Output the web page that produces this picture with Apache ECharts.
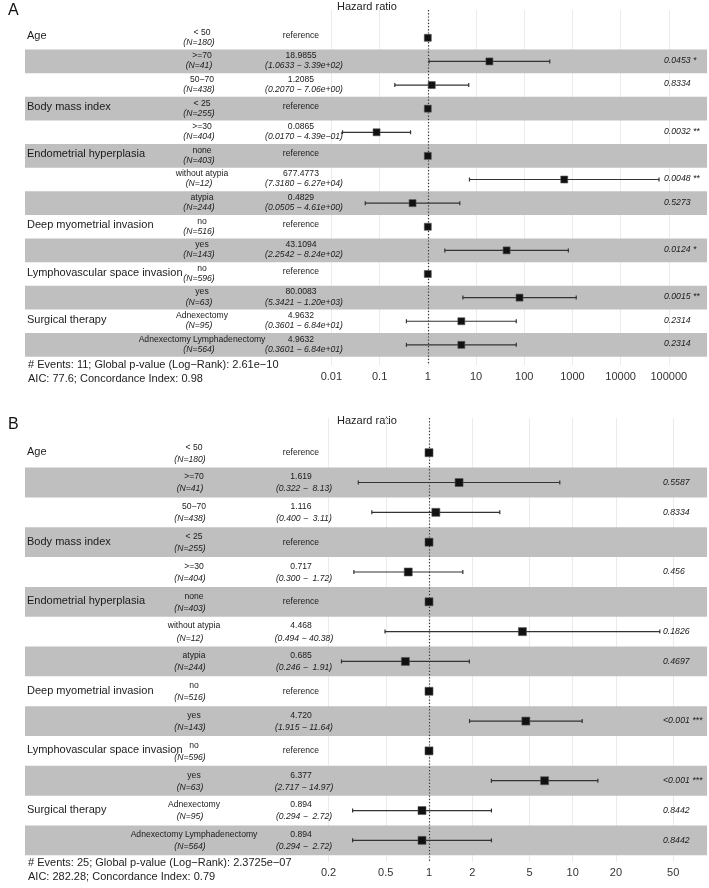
<!DOCTYPE html>
<html>
<head>
<meta charset="utf-8">
<script src="https://cdn.jsdelivr.net/npm/echarts@6/dist/echarts.min.js"></script>
<style>
    html, body { margin: 0; padding: 0; background: #fff; }
    #chart { width: 709px; height: 888px; }
</style>
</head>
<body>
<div id="chart"></div>
<script>
// rows, same for both models
var variables = ['Age', '', '', 'Body mass index', '', 'Endometrial hyperplasia', '', '', 'Deep myometrial invasion', '', 'Lymphovascular space invasion', '', 'Surgical therapy', ''];
var levels = ['< 50', '>=70', '50\u221270', '< 25', '>=30', 'none', 'without atypia', 'atypia', 'no', 'yes', 'no', 'yes', 'Adnexectomy', 'Adnexectomy Lymphadenectomy'];
var counts = [180, 41, 438, 255, 404, 403, 12, 244, 516, 143, 596, 63, 95, 564];

// model A
var hrA = [1, 18.9855, 1.2085, 1, 0.0865, 1, 677.4773, 0.4829, 1, 43.1094, 1, 80.0083, 4.9632, 4.9632];
var lowerA = [null, 1.0633, 0.2070, null, 0.0170, null, 7.3180, 0.0505, null, 2.2542, null, 5.3421, 0.3601, 0.3601];
var upperA = [null, 339, 7.06, null, 0.439, null, 62700, 4.61, null, 824, null, 1200, 68.4, 68.4];
var pA = ['', '0.0453 *', '0.8334', '', '0.0032 **', '', '0.0048 **', '0.5273', '', '0.0124 *', '', '0.0015 **', '0.2314', '0.2314'];
var ticksA = [0.01, 0.1, 1, 10, 100, 1000, 10000, 100000];
var notesA = ['# Events: 11; Global p-value (Log\u2212Rank): 2.61e\u221210', 'AIC: 77.6; Concordance Index: 0.98'];

// model B
var hrB = [1, 1.619, 1.116, 1, 0.717, 1, 4.468, 0.685, 1, 4.720, 1, 6.377, 0.894, 0.894];
var lowerB = [null, 0.322, 0.400, null, 0.300, null, 0.494, 0.246, null, 1.915, null, 2.717, 0.294, 0.294];
var upperB = [null, 8.13, 3.11, null, 1.72, null, 40.38, 1.91, null, 11.64, null, 14.97, 2.72, 2.72];
var pB = ['', '0.5587', '0.8334', '', '0.456', '', '0.1826', '0.4697', '', '<0.001 ***', '', '<0.001 ***', '0.8442', '0.8442'];
var ticksB = [0.2, 0.5, 1, 2, 5, 10, 20, 50];
var notesB = ['# Events: 25; Global p-value (Log\u2212Rank): 2.3725e\u221207', 'AIC: 282.28; Concordance Index: 0.79'];

var FONT = '"Liberation Sans", Arial, Helvetica, sans-serif';
var LEFT = 25, RIGHT = 707;

function expText(v) {
    return v.toExponential(2).replace(/e([+-])(\d)$/, 'e$10$2').replace('-', '\u2212');
}

function pad(s, n) {
    while (s.length < n) s = ' ' + s;
    return s;
}

var panels = [
    {
        name: 'A', hr: hrA, lo: lowerA, hi: upperA, p: pA, ticks: ticksA, notes: notesA,
        hrText: function (v) { return v.toFixed(4); },
        ciText: function (lo, hi) { return '(' + lo.toFixed(4) + ' \u2212 ' + expText(hi) + ')'; },
        top: 10, bottom: 365, rowTop: 37.8, rowStep: 23.62, pxOne: 427.8, pxDecade: 48.2,
        sq: 7, up: -5.5, down: 4.5, refDy: -2.5, varDy: -1.5, pDy: -1,
        lvlX: 202, nX: 199, pX: 664, titleTop: 1, noteTop: 359, labelMargin: 6
    },
    {
        name: 'B', hr: hrB, lo: lowerB, hi: upperB, p: pB, ticks: ticksB, notes: notesB,
        hrText: function (v) { return v.toFixed(3); },
        ciText: function (lo, hi) { return '(' + lo.toFixed(3) + ' \u2212 ' + pad(hi.toFixed(2), 5) + ')'; },
        top: 418, bottom: 862, rowTop: 452.7, rowStep: 29.82, pxOne: 429, pxDecade: 143.7,
        sq: 8, up: -5.5, down: 6.5, refDy: 0, varDy: -0.5, pDy: 0,
        lvlX: 194, nX: 190, pX: 663, titleTop: 415, noteTop: 857, labelMargin: 5
    }
];

function textSeries(ax, ay, items, font, align) {
    return {
        type: 'custom',
        xAxisIndex: ax,
        yAxisIndex: ay,
        z: 10,
        silent: true,
        data: items.map(function (d) { return [d.x, d.y]; }),
        renderItem: function (params, api) {
            var pt = api.coord([api.value(0), api.value(1)]);
            return {
                type: 'text',
                x: pt[0],
                y: pt[1],
                style: {
                    text: items[params.dataIndex].text,
                    font: font,
                    fill: '#1a1a1a',
                    align: align,
                    verticalAlign: 'middle'
                }
            };
        }
    };
}

var option = {
    animation: false,
    backgroundColor: '#fff',
    grid: [],
    xAxis: [],
    yAxis: [],
    series: [],
    graphic: []
};

panels.forEach(function (p, k) {
    var xMin = (LEFT - p.pxOne) / p.pxDecade;
    var xMax = (RIGHT - p.pxOne) / p.pxDecade;
    var yMin = (p.top - p.rowTop) / p.rowStep;
    var yMax = (p.bottom - p.rowTop) / p.rowStep;
    var ticks = p.ticks;
    var dy = function (px) { return px / p.rowStep; };

    option.grid.push({ left: LEFT, width: RIGHT - LEFT, top: p.top, height: p.bottom - p.top });
    // log-scale axis (values in log10 units)
    option.xAxis.push({
        type: 'value', gridIndex: k, min: xMin, max: xMax,
        axisLine: { show: false }, axisTick: { show: false }, splitLine: { show: false },
        axisLabel: {
            customValues: ticks.map(Math.log10),
            margin: p.labelMargin,
            color: '#333',
            fontSize: 11,
            fontFamily: FONT,
            formatter: function (v) {
                for (var i = 0; i < ticks.length; i++) {
                    if (Math.abs(Math.log10(ticks[i]) - v) < 1e-6) return String(ticks[i]);
                }
                return '';
            }
        }
    });
    // table axis in pixel columns
    option.xAxis.push({ type: 'value', gridIndex: k, min: LEFT, max: RIGHT, show: false });
    option.yAxis.push({ type: 'value', gridIndex: k, min: yMin, max: yMax, inverse: true, show: false });

    var ax = 2 * k, tx = 2 * k + 1;

    var bands = [];
    for (var i = 1; i < p.hr.length; i += 2) {
        bands.push([{ yAxis: i - 0.5 }, { yAxis: i + 0.5 }]);
    }

    var ciData = [];
    p.hr.forEach(function (h, i) {
        if (p.lo[i] != null) ciData.push([Math.log10(p.lo[i]), Math.log10(p.hi[i]), i]);
    });

    // squares + background bands and gridlines
    option.series.push({
        type: 'scatter',
        xAxisIndex: ax, yAxisIndex: k,
        z: 5,
        silent: true,
        symbol: 'rect',
        symbolSize: p.sq,
        itemStyle: { color: '#111', borderColor: '#555', borderWidth: 0.6, opacity: 1 },
        data: p.hr.map(function (h, i) { return [Math.log10(h), i]; }),
        markArea: {
            silent: true,
            z: 1,
            itemStyle: { color: '#bfbfbf' },
            data: bands
        },
        markLine: {
            silent: true,
            z: 0,
            symbol: ['none', 'none'],
            label: { show: false },
            lineStyle: { color: '#ebebeb', width: 1, type: 'solid' },
            data: ticks.map(function (t) { return { xAxis: Math.log10(t) }; })
        }
    });

    // confidence intervals
    option.series.push({
        type: 'custom',
        xAxisIndex: ax, yAxisIndex: k,
        z: 4,
        silent: true,
        encode: { x: [0, 1], y: 2 },
        data: ciData,
        renderItem: function (params, api) {
            var a = api.coord([api.value(0), api.value(2)]);
            var b = api.coord([api.value(1), api.value(2)]);
            var st = { stroke: '#333', lineWidth: 1.2 };
            return {
                type: 'group',
                children: [
                    { type: 'line', shape: { x1: a[0], y1: a[1], x2: b[0], y2: b[1] }, style: st },
                    { type: 'line', shape: { x1: a[0], y1: a[1] - 2, x2: a[0], y2: a[1] + 2 }, style: st },
                    { type: 'line', shape: { x1: b[0], y1: b[1] - 2, x2: b[0], y2: b[1] + 2 }, style: st }
                ]
            };
        },
        markLine: {
            silent: true,
            z: 3,
            symbol: ['none', 'none'],
            label: { show: false },
            lineStyle: { color: '#333', width: 1.2, type: [1.2, 2] },
            data: [{ xAxis: 0 }]
        }
    });

    // table text
    var varItems = [], lvlItems = [], nItems = [], hrItems = [], ciItems = [], pItems = [];
    p.hr.forEach(function (h, i) {
        if (variables[i]) varItems.push({ x: 27, y: i + dy(p.varDy), text: variables[i] });
        lvlItems.push({ x: p.lvlX, y: i + dy(p.up), text: levels[i] });
        nItems.push({ x: p.nX, y: i + dy(p.down), text: '(N=' + counts[i] + ')' });
        if (p.lo[i] == null) {
            hrItems.push({ x: 301, y: i + dy(p.refDy), text: 'reference' });
        } else {
            hrItems.push({ x: 301, y: i + dy(p.up), text: p.hrText(h) });
            ciItems.push({ x: 304, y: i + dy(p.down), text: p.ciText(p.lo[i], p.hi[i]) });
        }
        if (p.p[i]) pItems.push({ x: p.pX, y: i + dy(p.pDy), text: p.p[i] });
    });
    option.series.push(textSeries(tx, k, varItems, '11px ' + FONT, 'left'));
    option.series.push(textSeries(tx, k, lvlItems, '8.6px ' + FONT, 'center'));
    option.series.push(textSeries(tx, k, nItems, 'italic 8.6px ' + FONT, 'center'));
    option.series.push(textSeries(tx, k, hrItems, '8.6px ' + FONT, 'center'));
    option.series.push(textSeries(tx, k, ciItems, 'italic 8.6px ' + FONT, 'center'));
    option.series.push(textSeries(tx, k, pItems, 'italic 8.7px ' + FONT, 'left'));

    option.graphic.push(
        { type: 'text', left: 8, top: p.titleTop + 2, style: { text: p.name, font: '16px ' + FONT, fill: '#111' } },
        { type: 'text', left: 337, top: p.titleTop, style: { text: 'Hazard ratio', font: '11px ' + FONT, fill: '#222' } },
        { type: 'text', left: 28, top: p.noteTop, style: { text: p.notes[0], font: '11px ' + FONT, fill: '#222' } },
        { type: 'text', left: 28, top: p.noteTop + 14.5, style: { text: p.notes[1], font: '11px ' + FONT, fill: '#222' } }
    );
});

var chart = echarts.init(document.getElementById('chart'));
chart.setOption(option);
</script>
</body>
</html>
